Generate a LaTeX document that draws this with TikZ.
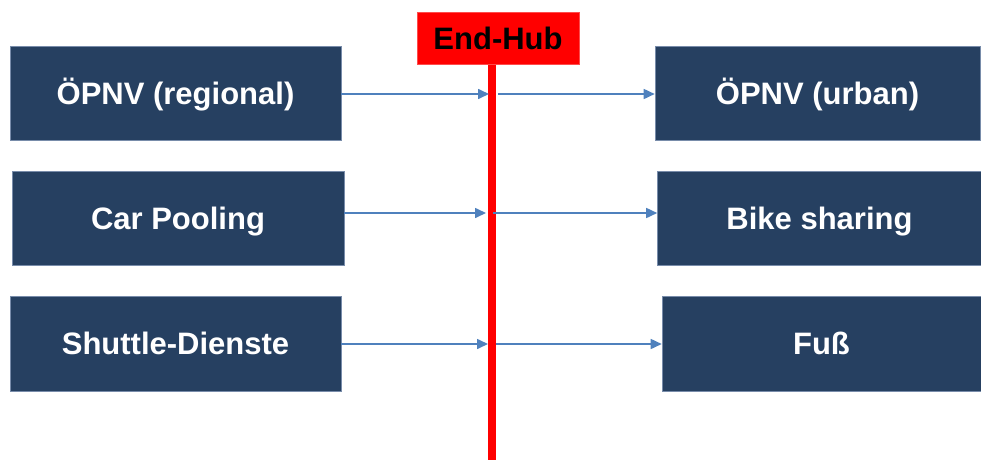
\documentclass[tikz,border=0pt]{standalone}
\usepackage{fontspec}
\setmainfont{Liberation Sans}
\usetikzlibrary{arrows.meta}
\definecolor{boxnavy}{RGB}{38,64,97}
\definecolor{boxedge}{RGB}{120,140,170}
\definecolor{arrowblue}{RGB}{79,129,189}
\tikzset{
  labeltext/.style={inner sep=0pt, font=\fontsize{31}{36}\selectfont\bfseries,
    text height=22pt, text depth=0pt},
  modebox/.style={labeltext, draw=boxedge, line width=0.6pt, fill=boxnavy, text=white},
  flow/.style={draw=arrowblue, line width=1.6pt, -{Triangle[length=11pt,width=10pt]}},
}
\begin{document}
\begin{tikzpicture}[x=1pt,y=-1pt]
\useasboundingbox (0,0) rectangle (981,460);
% red hub line
\fill[red] (487.5,64) rectangle (495.5,460);
\node[labeltext, fill=red, draw=red!70!white, line width=0.5pt, minimum width=162pt, minimum height=52pt]
  (hub) at (498,38) {End-Hub};
% left boxes
\node[modebox, minimum width=331pt, minimum height=94pt] (l1) at (175.5,93) {ÖPNV (regional)};
\node[modebox, minimum width=332pt, minimum height=94pt] (l2) at (178,218) {Car Pooling};
\node[modebox, minimum width=331pt, minimum height=95pt] (l3) at (175.5,343.5) {Shuttle-Dienste};
% right boxes
\node[modebox, minimum width=325pt, minimum height=94pt] (r1) at (817.5,93) {ÖPNV (urban)};
\node[modebox, minimum width=324pt, minimum height=94pt] (r2) at (819.5,218) {Bike sharing};
\node[modebox, minimum width=319pt, minimum height=95pt] (r3) at (821.5,343.5) {Fuß};
% hub contact points
\coordinate (h1in) at (489,94);
\coordinate (h1out) at (498,94);
\coordinate (h2in) at (486,213);
\coordinate (h2out) at (493,213);
\coordinate (h3in) at (488,344);
\coordinate (h3out) at (496,344);
% arrows
\draw[flow] (l1.east |- h1in) -- (h1in);
\draw[flow] (h1out) -- (r1.west |- h1out);
\draw[flow] (l2.east |- h2in) -- (h2in);
\draw[flow] (h2out) -- (r2.west |- h2out);
\draw[flow] (l3.east |- h3in) -- (h3in);
\draw[flow] (h3out) -- (r3.west |- h3out);
\end{tikzpicture}
\end{document}
